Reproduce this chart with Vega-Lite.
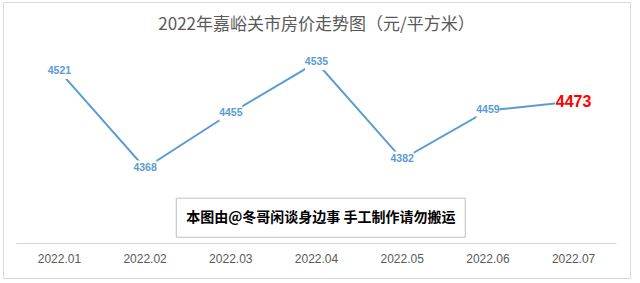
{
  "$schema": "https://vega.github.io/schema/vega-lite/v6.json",
  "width": 627,
  "height": 276,
  "autosize": {"type": "none"},
  "padding": {"left": 3, "top": 2, "right": 10, "bottom": 5},
  "background": "#ffffff",
  "title": {
    "text": "2022年嘉峪关市房价走势图（元/平方米）",
    "font": "Noto Sans CJK SC",
    "fontSize": 17,
    "fontWeight": "normal",
    "color": "#595959",
    "anchor": "middle",
    "baseline": "middle",
    "offset": -40
  },
  "config": {"view": {"stroke": "#d9d9d9", "strokeWidth": 1}},
  "data": {
    "values": [
      {"month": "2022.01", "price": 4521},
      {"month": "2022.02", "price": 4368},
      {"month": "2022.03", "price": 4455},
      {"month": "2022.04", "price": 4535},
      {"month": "2022.05", "price": 4382},
      {"month": "2022.06", "price": 4459},
      {"month": "2022.07", "price": 4473}
    ]
  },
  "layer": [
    {
      "mark": {"type": "rect", "fill": "#d9d9d9"},
      "encoding": {
        "x": {
          "field": "month",
          "type": "ordinal",
          "scale": {"type": "band", "paddingInner": 0, "paddingOuter": 0.158},
          "axis": {
            "orient": "bottom",
            "offset": -35,
            "domain": false,
            "ticks": false,
            "grid": false,
            "labelPadding": 10,
            "labelFont": "Liberation Sans",
            "labelFontSize": 12,
            "labelColor": "#595959",
            "labelAngle": 0,
            "title": null
          }
        },
        "y": {"datum": 4250, "type": "quantitative", "scale": {"domain": [4195, 4630], "nice": false, "zero": false}, "axis": null},
        "y2": {"datum": 4248.4}
      }
    },
    {
      "mark": {"type": "line", "color": "#5b9bd5", "strokeWidth": 2},
      "encoding": {
        "x": {"field": "month", "type": "ordinal"},
        "y": {"field": "price", "type": "quantitative"}
      }
    },
    {
      "transform": [{"filter": "datum.month != '2022.07'"}],
      "mark": {"type": "point", "shape": "M-1,-0.68H1V0.68H-1Z", "filled": true, "color": "#ffffff", "opacity": 1, "size": 529},
      "encoding": {
        "x": {"field": "month", "type": "ordinal"},
        "y": {"field": "price", "type": "quantitative"}
      }
    },
    {
      "transform": [{"filter": "datum.month == '2022.07'"}],
      "mark": {"type": "point", "shape": "M-1,-0.55H1V0.55H-1Z", "filled": true, "color": "#ffffff", "opacity": 1, "size": 1369},
      "encoding": {
        "x": {"field": "month", "type": "ordinal"},
        "y": {"field": "price", "type": "quantitative"}
      }
    },
    {
      "transform": [{"filter": "datum.month != '2022.07'"}],
      "mark": {"type": "text", "font": "Liberation Sans", "fontWeight": "bold", "fontSize": 10.5, "color": "#5b9bd5", "baseline": "middle", "align": "center"},
      "encoding": {
        "x": {"field": "month", "type": "ordinal"},
        "y": {"field": "price", "type": "quantitative"},
        "text": {"field": "price", "type": "quantitative", "format": "d"}
      }
    },
    {
      "transform": [{"filter": "datum.month == '2022.07'"}],
      "mark": {"type": "text", "font": "Liberation Sans", "fontWeight": "bold", "fontSize": 16, "color": "#ff0000", "baseline": "middle", "align": "center"},
      "encoding": {
        "x": {"field": "month", "type": "ordinal"},
        "y": {"field": "price", "type": "quantitative"},
        "text": {"field": "price", "type": "quantitative", "format": "d"}
      }
    },
    {
      "data": {"values": [{"note": "本图由@冬哥闲谈身边事 手工制作请勿搬运"}]},
      "mark": {"type": "point", "shape": "M-1,-0.135H1V0.135H-1Z", "filled": false, "fill": "#ffffff", "fillOpacity": 1, "stroke": "#bfbfbf", "strokeWidth": 1, "opacity": 1, "size": 83521},
      "encoding": {
        "x": {"datum": "2022.04", "type": "ordinal", "bandPosition": 0.55},
        "y": {"datum": 4290, "type": "quantitative"}
      }
    },
    {
      "data": {"values": [{"note": "本图由@冬哥闲谈身边事 手工制作请勿搬运"}]},
      "mark": {"type": "text", "font": "Noto Sans CJK SC", "fontWeight": "bold", "fontSize": 14, "color": "#000000", "baseline": "middle", "align": "center"},
      "encoding": {
        "x": {"datum": "2022.04", "type": "ordinal", "bandPosition": 0.55},
        "y": {"datum": 4290, "type": "quantitative"},
        "text": {"field": "note", "type": "nominal"}
      }
    }
  ]
}
